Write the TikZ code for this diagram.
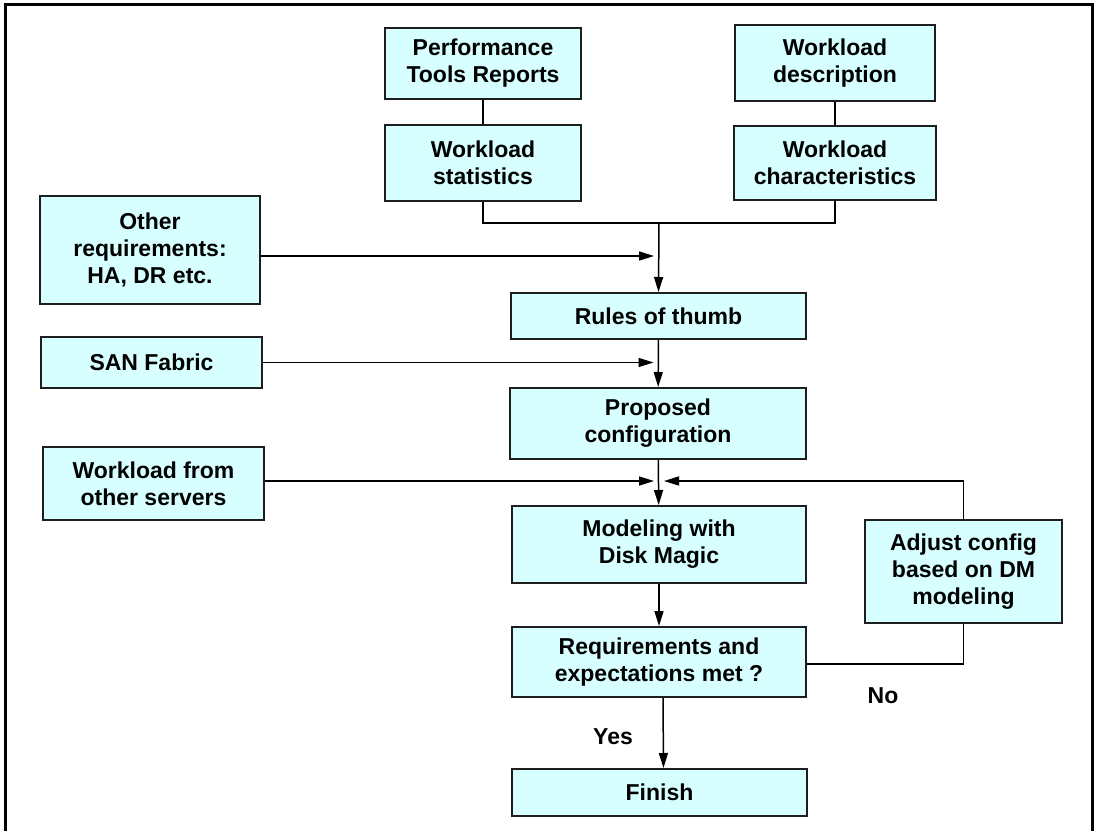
\documentclass[tikz,border=0pt]{standalone}
\usepackage{fontspec}
\setmainfont{Liberation Sans}
\usepackage{xcolor}
\usetikzlibrary{arrows.meta,positioning}
\definecolor{boxfill}{RGB}{215,255,255}
\definecolor{boxline}{RGB}{30,30,30}

\begin{document}
\begin{tikzpicture}[x=0.5pt,y=-0.5pt,
    box/.style={draw=boxline,line width=1pt,fill=boxfill,align=center,inner sep=0pt,
        font=\fontsize{11.5}{13.5}\selectfont\bfseries},
    arr/.style={-{Triangle[length=7.5pt,width=4.5pt]},line width=0.75pt},
    lbl/.style={font=\fontsize{11.5}{13.5}\selectfont\bfseries}]
            \useasboundingbox (0,0) rectangle (1103,830);
            \clip (0,0) rectangle (1103,830);
            \draw[line width=1.5pt] (5,850) -- (5,4) -- (1092,4) -- (1092,850);
            % top inputs
            \node[box,minimum width=98pt,minimum height=35.5pt] (perf) at (483,63.5) {Performance\\Tools Reports};
            \node[box,minimum width=98pt,minimum height=38pt] (stats) at (483,163) {Workload\\statistics};
            \node[box,minimum width=100pt,minimum height=38pt] (desc) at (835,63) {Workload\\description};
            \node[box,minimum width=101pt,minimum height=37pt] (charac) at (835,163) {Workload\\characteristics};
            % side inputs
            \node[box,minimum width=110pt,minimum height=54pt] (otherreq) at (150,250) {Other\\requirements:\\HA, DR etc.};
            \node[box,minimum width=110.5pt,minimum height=25.5pt] (san) at (151.5,362.5) {SAN Fabric};
            \node[box,minimum width=110.5pt,minimum height=36.5pt] (wother) at (153.5,483.5) {Workload from\\other servers};
            % main column
            \node[box,minimum width=147.5pt,minimum height=23pt] (rules) at (658.5,316) {Rules of thumb};
            \node[box,minimum width=148pt,minimum height=35.5pt] (proposed) at (658,423.5) {Proposed\\configuration};
            \node[box,minimum width=147pt,minimum height=38.5pt] (modeling) at (659,544.5) {Modeling with\\Disk Magic};
            \node[box,minimum width=147pt,minimum height=35pt] (reqs) at (659,662) {Requirements and\\expectations met ?};
            \node[box,minimum width=147.5pt,minimum height=23.5pt] (finish) at (659.5,792.5) {Finish};
            \node[box,minimum width=98.5pt,minimum height=51.5pt] (adjust) at (963.5,571.5) {Adjust config\\based on DM\\modeling};
            \node[lbl] (yes) at (613,737) {Yes};
            \node[lbl] (no) at (883,696) {No};
            \coordinate (join) at (659,223);
            \coordinate (merge) at (659,481);
            % connectors
            \draw[line width=0.75pt] (perf) -- (stats);
            \draw[line width=0.75pt] (desc) -- (charac);
            \draw[line width=0.75pt] (stats.south) |- (join) -| (charac.south);
            \draw[arr] (join) -- (rules.north);
            \draw[arr,shorten >=2.5pt] ([yshift=-3pt]otherreq.east) -- ([yshift=-3pt]otherreq.east -| join);
            \draw[arr,shorten >=2.5pt] (san.east) -- (san.east -| rules.south);
            \draw[arr] (rules) -- (proposed);
            \draw[arr,shorten >=2.5pt] (wother.east |- merge) -- (merge);
            \draw[arr] (proposed) -- (modeling);
            \draw[arr,shorten >=2.5pt] (adjust.north) |- (merge);
            \draw[arr] (modeling) -- (reqs);
            \draw[line width=0.75pt] ([yshift=-1pt]reqs.east) -| (adjust.south);
            \draw[arr] ([xshift=2pt]reqs.south) -- ([xshift=2pt]finish.north);
        \end{tikzpicture}
\end{document}
